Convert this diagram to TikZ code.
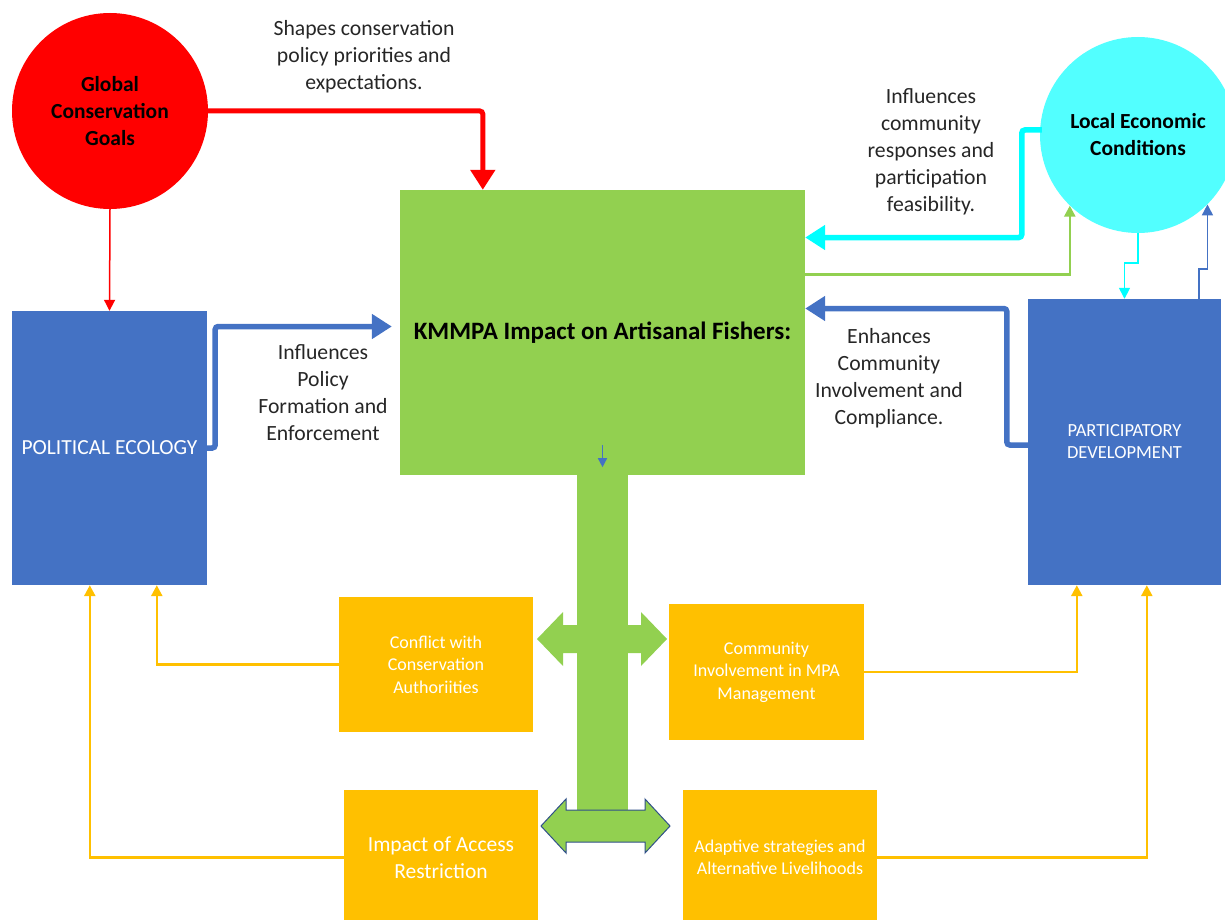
\documentclass[tikz,border=0pt]{standalone}
\usepackage{fontspec}
\setmainfont{Carlito}
\usetikzlibrary{arrows.meta,calc}
\definecolor{kgreen}{HTML}{92D050}
\definecolor{kblue}{HTML}{4472C4}
\definecolor{korange}{HTML}{FFC000}
\definecolor{kcyan}{HTML}{52FFFF}
\definecolor{acyan}{HTML}{00FFFF}
\definecolor{kred}{HTML}{FF0000}
\definecolor{ktext}{HTML}{262626}
\begin{document}
\begin{tikzpicture}[x=1pt,y=-1pt,
  box/.style={rectangle,inner sep=0pt,align=center},
  bigcirc/.style={circle,inner sep=0pt,minimum size=196pt,align=center,font=\fontsize{21.5}{27}\selectfont\bfseries},
  obox/.style={box,fill=korange,text=white,minimum width=194pt,minimum height=135pt},
  lbl/.style={align=center,text=ktext,font=\fontsize{21.7}{27}\selectfont},
  thickarr/.style={line width=5.5pt,rounded corners=3pt,-{Triangle[length=20pt,width=24pt]}},
  thinarr/.style={line width=2pt,-{Triangle[length=11pt,width=11pt]}}
]
\useasboundingbox (0,0) rectangle (1225,920);
% nodes
\node[bigcirc,fill=kred] (gcg) at (110,111) {Global\\Conservation\\Goals};
\node[bigcirc,fill=kcyan] (lec) at (1138,135) {Local Economic\\Conditions};
\node[box,fill=kgreen,minimum width=405pt,minimum height=285pt,font=\fontsize{25}{30}\selectfont\bfseries] (kmm) at (602.5,332.5) {KMMPA Impact on Artisanal Fishers:};
\node[box,fill=kblue,text=white,minimum width=195pt,minimum height=274pt,font=\fontsize{21.5}{26}\selectfont] (pe) at (109.5,448) {POLITICAL ECOLOGY};
\node[box,fill=kblue,text=white,minimum width=193pt,minimum height=286pt,font=\fontsize{18.5}{22}\selectfont] (pd) at (1124.5,442) {PARTICIPATORY\\DEVELOPMENT};
\node[obox,font=\fontsize{18}{22.5}\selectfont] (conf) at (436,664.5) {Conflict with\\Conservation\\Authoriities};
\node[obox,minimum width=195pt,minimum height=136pt,font=\fontsize{18}{22.5}\selectfont] (com) at (766.5,672) {Community\\Involvement in MPA\\Management};
\node[obox,font=\fontsize{21.5}{27}\selectfont] (imp) at (441,857.5) {Impact of Access\\Restriction};
\node[obox,font=\fontsize{18}{22.5}\selectfont] (ada) at (780,857.5) {Adaptive strategies and\\Alternative Livelihoods};
% labels
\node[lbl] (l1) at (364,57) {Shapes conservation\\policy priorities and\\expectations.};
\node[lbl] (l2) at (931,152) {Influences\\community\\responses and\\participation\\feasibility.};
\node[lbl] (l3) at (323,392.5) {Influences\\Policy\\Formation and\\Enforcement};
\node[lbl] (l4) at (889,378.5) {Enhances\\Community\\Involvement and\\Compliance.};
% green trunk and double arrows
\fill[kgreen] ($(kmm.south)+(-25.5,-1)$) rectangle ($(kmm.south)+(25.5,337)$);
\fill[kgreen] (537,639) -- (563,612) -- (563,625) -- (641,625) -- (641,612) -- (667,639)
  -- (641,666) -- (641,653) -- (563,653) -- (563,666) -- cycle;
\filldraw[fill=kgreen,draw=kblue!70!black,line width=1pt,line join=miter]
  (541,826) -- (566,799) -- (566,810) -- (645,810) -- (645,799) -- (670,826)
  -- (645,853) -- (645,842) -- (566,842) -- (566,853) -- cycle;
% small arrow inside central box
\draw[kblue,line width=1.5pt,-{Triangle[length=9pt,width=9pt]}] ($(kmm.south)+(0,-30)$) -- ($(kmm.south)+(0,-8)$);
% connectors
\draw[thickarr,kred,line width=5pt] (gcg.east) -| ($(kmm.north west)+(83,0)$);
\draw[thinarr,kred,line width=1.5pt] (gcg.south) -- (pe.north);
\draw[thickarr,kblue] (pe.east) -- ++(8,0) |- ($(kmm.west)+(-8,-6)$);
\draw[thickarr,acyan] ($(lec.west)+(2,-5)$) -- ++(-20,0) |- ($(kmm.east)+(0,-95)$);
\draw[thinarr,kgreen,line width=2.5pt] ($(kmm.east)+(0,-58)$) -| (lec.226);
\draw[thickarr,kblue] ($(pd.west)+(0,3)$) -- ++(-21,0) |- ($(kmm.east)+(0,-24)$);
\draw[thinarr,acyan,line width=1.5pt] (lec.south) -- ++(0,30) -| (pd.north);
\draw[thinarr,kblue,line width=1.8pt] ($(pd.north east)+(-22,0)$) -- ++(0,-30) -| (lec.-45);
\draw[thinarr,korange,line width=2.5pt] (conf.west) -| ($(pe.south west)+(145,0)$);
\draw[thinarr,korange,line width=2.5pt] (imp.west) -| ($(pe.south west)+(78,0)$);
\draw[thinarr,korange,line width=2.5pt] (com.east) -| ($(pd.south west)+(49,0)$);
\draw[thinarr,korange,line width=2.5pt] (ada.east) -| ($(pd.south west)+(119,0)$);
\end{tikzpicture}
\end{document}
